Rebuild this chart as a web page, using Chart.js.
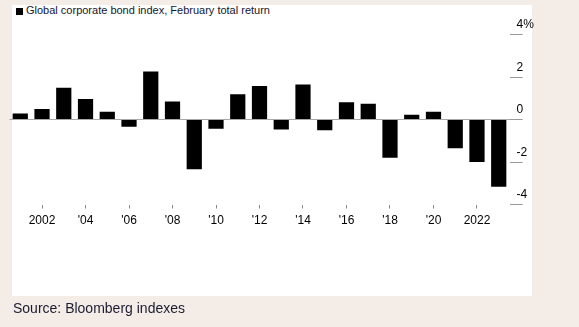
<!DOCTYPE html>
<html>
<head>
<meta charset="utf-8">
<script src="https://cdn.jsdelivr.net/npm/chart.js@4.4.1/dist/chart.umd.min.js"></script>
<style>
  html, body { margin: 0; padding: 0; }
  body { width: 579px; height: 327px; background: #f4ece7; position: relative; overflow: hidden;
         font-family: "Liberation Sans", Arial, sans-serif; }
  #panel { position: absolute; left: 12px; top: 5px; width: 520px; height: 291px; background: #fff; }
  #title { position: absolute; left: 26px; top: 4px; font-size: 11px; line-height: 13px; color: #15152e; white-space: nowrap; }
  #key { position: absolute; left: 16px; top: 8px; width: 6.5px; height: 6.5px; background: #000; }
  #source { position: absolute; left: 13px; top: 300px; font-size: 14px; line-height: 16px; color: #1c1c30; }
  #wrap { position: absolute; left: 0; top: 0; width: 579px; height: 327px; }
</style>
</head>
<body>
<div id="panel"></div>
<div id="key"></div>
<div id="title">Global corporate bond index, February total return</div>
<div id="wrap"><canvas id="chart"></canvas></div>
<div id="source">Source: Bloomberg indexes</div>
<script>
const years = [2001, 2002, 2003, 2004, 2005, 2006, 2007, 2008, 2009, 2010, 2011, 2012,
               2013, 2014, 2015, 2016, 2017, 2018, 2019, 2020, 2021, 2022, 2023];
const returns = [0.28, 0.5, 1.5, 0.97, 0.36, -0.34, 2.26, 0.85, -2.34, -0.44, 1.19, 1.58,
                 -0.47, 1.65, -0.5, 0.81, 0.74, -1.8, 0.22, 0.36, -1.35, -2.0, -3.17];
const yTicks = [-4, -2, 0, 2, 4];

function yearLabel(y) {
  if (y % 2 !== 0) return '';
  if (y === 2002 || y === 2022) return String(y);
  return "'" + String(y).slice(2);
}

const ctx = document.getElementById('chart').getContext('2d');
new Chart(ctx, {
  type: 'bar',
  data: {
    labels: years.map(String),
    datasets: [{
      data: returns,
      backgroundColor: '#000',
      borderWidth: 0,
      barPercentage: 0.7,
      categoryPercentage: 1
    }]
  },
  options: {
    responsive: true,
    maintainAspectRatio: false,
    animation: false,
    layout: { padding: { left: 9.4, top: 34.5, right: 0, bottom: 0 } },
    plugins: { legend: { display: false }, tooltip: { enabled: false } },
    scales: {
      x: {
        afterFit: s => { s.height = 122.5; },
        border: { display: false },
        grid: {
          offset: false,
          drawOnChartArea: false,
          tickLength: 4,
          tickColor: c => (years[c.index] % 2 === 0 ? '#888' : 'rgba(0,0,0,0)')
        },
        ticks: {
          autoSkip: false,
          maxRotation: 0,
          padding: 5,
          color: '#000',
          font: { family: '"Liberation Sans", Arial, sans-serif', size: 12 },
          callback: (v, i) => yearLabel(years[i])
        }
      },
      y: {
        position: 'right',
        min: -4,
        max: 4,
        afterFit: s => { s.width = 69.4; },
        afterBuildTicks: s => { s.ticks = yTicks.map(v => ({ value: v })); },
        border: { display: false },
        grid: {
          drawOnChartArea: true,
          color: c => (c.tick && c.tick.value === 0 ? '#a8a8a8' : 'rgba(0,0,0,0)'),
          tickLength: 13,
          tickColor: '#999'
        },
        ticks: {
          padding: -6,
          labelOffset: -9.5,
          color: '#000',
          font: { family: '"Liberation Sans", Arial, sans-serif', size: 12 },
          callback: v => (v === 4 ? '4%' : String(v))
        }
      }
    }
  }
});
</script>
</body>
</html>
